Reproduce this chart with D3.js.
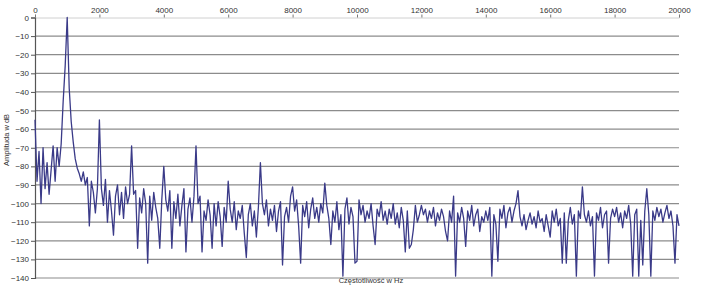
<!DOCTYPE html>
<html>
<head>
<meta charset="utf-8">
<script src="https://cdn.jsdelivr.net/npm/d3@7"></script>
<style>
  body { margin: 0; background: #fff; }
  svg text { font-family: "Liberation Sans", Arial, sans-serif; fill: #333; }
</style>
</head>
<body>
<div id="chart"></div>
<script>
// spectrum sampled every 62.5 Hz, one row per 1000 Hz
const BIN_HZ = 62.5;
const amplitudes = [
  -55, -88, -72, -100, -70, -92, -78, -95, -82, -69, -88, -70, -80, -68, -45, -26,
  0, -38, -56, -67, -76, -81, -84, -88, -83, -90, -86, -112, -88, -94, -105, -92,
  -55, -92, -101, -87, -110, -93, -104, -117, -96, -90, -106, -94, -108, -91, -100, -95,
  -69, -95, -93, -124, -97, -105, -92, -100, -132, -96, -109, -94, -102, -108, -124, -98,
  -80, -98, -104, -93, -124, -99, -108, -95, -112, -101, -92, -126, -103, -97, -110, -96,
  -69, -100, -96, -126, -104, -109, -98, -106, -124, -100, -112, -99, -107, -123, -102, -110,
  -88, -103, -110, -99, -114, -104, -108, -101, -116, -129, -106, -100, -112, -104, -118, -102,
  -78, -100, -106, -98, -112, -103, -109, -101, -115, -104, -99, -133, -107, -102, -110, -96,
  -91, -104, -98, -112, -132, -101, -107, -99, -113, -103, -97, -108, -102, -110, -100, -105,
  -89, -101, -108, -122, -104, -110, -99, -114, -106, -139, -103, -97, -111, -102, -107, -132,
  -131, -98, -106, -101, -110, -104, -108, -100, -112, -122, -103, -107, -99, -109, -104, -111,
  -103, -108, -100, -111, -105, -113, -102, -109, -126, -104, -124, -122, -114, -101, -110, -106,
  -101, -106, -103, -110, -104, -108, -102, -112, -105, -109, -103, -107, -115, -120, -104, -110,
  -96, -139, -105, -110, -102, -108, -123, -104, -109, -101, -112, -106, -103, -115, -107, -110,
  -104, -109, -102, -139, -106, -111, -131, -103, -108, -101, -113, -105, -102, -110, -104, -100,
  -93, -107, -112, -106, -114, -109, -105, -111, -107, -113, -104, -110, -108, -115, -106, -112,
  -118, -104, -110, -103, -112, -108, -132, -105, -132, -109, -102, -111, -106, -139, -104, -108,
  -91, -106, -110, -104, -112, -107, -139, -105, -109, -102, -113, -106, -104, -132, -108, -103,
  -107, -102, -110, -105, -113, -104, -108, -101, -111, -139, -106, -103, -139, -109, -133, -104,
  -92, -106, -139, -104, -109, -102, -107, -103, -110, -105, -101, -108, -104, -112, -132, -106,
  -112
];
const xTicks = [0, 2000, 4000, 6000, 8000, 10000, 12000, 14000, 16000, 18000, 20000];
const yTicks = [0, -10, -20, -30, -40, -50, -60, -70, -80, -90, -100, -110, -120, -130, -140];
const xTitle = 'Częstotliwość w Hz';
const yTitle = 'Amplituda w dB';

const W = 705, H = 286;
const plotLeft = 35, plotRight = 679, plotTop = 17.5, plotBottom = 278;

const svg = d3.select('#chart').append('svg')
  .attr('width', W)
  .attr('height', H);

const x = d3.scaleLinear().domain([0, 20000]).range([plotLeft, plotRight]);
const y = d3.scaleLinear().domain([0, -140]).range([plotTop, plotBottom]);

// horizontal grid
svg.append('g')
  .selectAll('line')
  .data(yTicks.filter(d => d !== 0))
  .enter().append('line')
  .attr('x1', plotLeft).attr('x2', plotRight)
  .attr('y1', d => y(d)).attr('y2', d => y(d))
  .attr('stroke', '#8c8c8c')
  .attr('stroke-width', 1.2);

// top x axis
const xAxis = svg.append('g')
  .attr('transform', `translate(0,${plotTop})`)
  .call(d3.axisTop(x).tickValues(xTicks).tickFormat(d3.format('d')).tickSize(3).tickPadding(2));
xAxis.select('.domain').attr('stroke', '#d0d0d0');
xAxis.selectAll('.tick line').attr('stroke', '#777');
xAxis.selectAll('text').attr('font-size', 8).attr('fill', '#333');

// left y axis
const yAxis = svg.append('g')
  .attr('transform', `translate(${plotLeft},0)`)
  .call(d3.axisLeft(y).tickValues(yTicks).tickSize(4).tickPadding(2));
yAxis.select('.domain').attr('stroke', '#555').attr('stroke-width', 1.2);
yAxis.selectAll('.tick line').attr('stroke', '#555');
yAxis.selectAll('text').attr('font-size', 8).attr('fill', '#333');

// spectrum line
const line = d3.line()
  .x((d, i) => x(i * BIN_HZ))
  .y(d => y(d));

svg.append('path')
  .datum(amplitudes)
  .attr('d', line)
  .attr('fill', 'none')
  .attr('stroke', '#3a3a88')
  .attr('stroke-width', 1.3)
  .attr('stroke-linejoin', 'round');

// titles
svg.append('text')
  .attr('x', 371).attr('y', 283)
  .attr('text-anchor', 'middle')
  .attr('font-size', 7.5)
  .text(xTitle);

svg.append('text')
  .attr('transform', 'translate(9,140) rotate(-90)')
  .attr('text-anchor', 'middle')
  .attr('font-size', 7.5)
  .text(yTitle);
</script>
</body>
</html>
